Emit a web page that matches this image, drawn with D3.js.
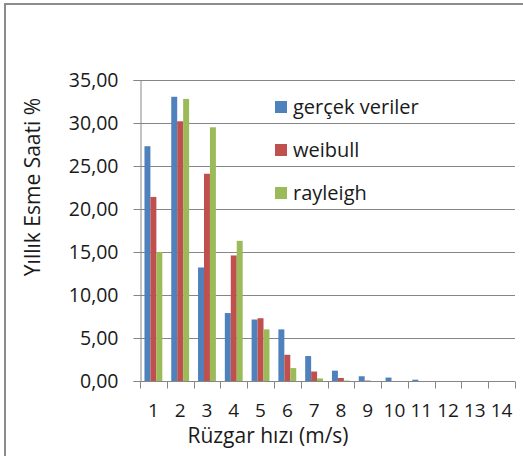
<!DOCTYPE html>
<html>
<head>
    <meta charset="utf-8">
    <title>Rüzgar hızı dağılımı</title>
    <script src="https://cdnjs.cloudflare.com/ajax/libs/d3/7.8.5/d3.min.js"></script>
    <style>
        body {
            margin: 0;
            background: white;
            font-family: "Open Sans", sans-serif;
        }
        svg text {
            fill: #1a1a1a;
        }
    </style>
</head>
<body>
    <div id="chart"></div>

    <script>
        // wind speed classes (m/s)
        const categories = [1, 2, 3, 4, 5, 6, 7, 8, 9, 10, 11, 12, 13, 14];
        const seriesNames = ["gerçek veriler", "weibull", "rayleigh"];
        const olcum = [27.3, 33.05, 13.2, 7.9, 7.15, 6.0, 2.9, 1.2, 0.55, 0.4, 0.15, 0, 0, 0];
        const weibull = [21.4, 30.2, 24.1, 14.6, 7.3, 3.05, 1.1, 0.35, 0.05, 0, 0, 0, 0, 0];
        const rayleigh = [15.0, 32.8, 29.5, 16.3, 6.0, 1.5, 0.3, 0.05, 0, 0, 0, 0, 0, 0];
        const yTicks = [0, 5, 10, 15, 20, 25, 30, 35];
        const colors = ["#4F81BD", "#C0504D", "#9BBB59"];

        const series = [olcum, weibull, rayleigh];

        const W = 523, H = 456;
        const plot = {left: 140, right: 515, top: 80, bottom: 381};

        const svg = d3.select("#chart")
            .append("svg")
            .attr("width", W)
            .attr("height", H);

        // outer chart frame (cut by the picture edge)
        svg.append("path")
            .attr("d", `M5,${H + 5} L5,4 L${W + 5},4`)
            .attr("fill", "none")
            .attr("stroke", "#8c8c8c")
            .attr("stroke-width", 2);

        const x = d3.scaleBand()
            .domain(categories)
            .range([plot.left, plot.right])
            .paddingInner(0)
            .paddingOuter(0);

        // gap width 150% -> bar = band / 4.5
        const barW = x.bandwidth() / 4.5;
        const xs = d3.scaleBand()
            .domain(d3.range(series.length))
            .range([barW * 0.75, barW * 3.75]);

        const y = d3.scaleLinear()
            .domain([0, 35])
            .range([plot.bottom, plot.top]);

        // gridlines
        svg.append("g")
            .selectAll("line")
            .data(yTicks.filter(d => d > 0))
            .enter()
            .append("line")
            .attr("x1", plot.left)
            .attr("x2", plot.right)
            .attr("y1", d => Math.round(y(d)) + 0.5)
            .attr("y2", d => Math.round(y(d)) + 0.5)
            .attr("stroke", "#868686")
            .attr("stroke-width", 1);

        // bars
        series.forEach((vals, si) => {
            svg.append("g")
                .selectAll("rect")
                .data(vals.map((v, i) => ({cat: categories[i], value: v})))
                .enter()
                .append("rect")
                .attr("x", d => x(d.cat) + xs(si))
                .attr("width", xs.bandwidth())
                .attr("y", d => y(d.value))
                .attr("height", d => y(0) - y(d.value))
                .attr("fill", colors[si]);
        });

        // y axis
        const yAxis = d3.axisLeft(y)
            .tickValues(yTicks)
            .tickSize(7)
            .tickPadding(15)
            .tickFormat(d => d3.format(".2f")(d).replace(".", ","));

        const gy = svg.append("g")
            .attr("transform", `translate(${plot.left + 0.5},0)`)
            .call(yAxis);
        gy.select(".domain").attr("stroke", "#868686");
        gy.selectAll(".tick line").attr("stroke", "#868686");
        gy.selectAll(".tick text")
            .attr("font-family", "Open Sans, sans-serif")
            .attr("font-size", 19.5)
            .attr("fill", "#1a1a1a");

        // x axis: ticks between categories, labels centred
        const gx = svg.append("g")
            .attr("transform", `translate(0,${plot.bottom + 0.5})`);
        gx.append("line")
            .attr("x1", plot.left)
            .attr("x2", plot.right)
            .attr("stroke", "#868686");
        gx.selectAll(".sep")
            .data(categories.concat([null]))
            .enter()
            .append("line")
            .attr("x1", (d, i) => Math.round(plot.left + i * x.step()) + 0.5)
            .attr("x2", (d, i) => Math.round(plot.left + i * x.step()) + 0.5)
            .attr("y1", 0)
            .attr("y2", 7)
            .attr("stroke", "#868686");
        gx.selectAll(".lbl")
            .data(categories)
            .enter()
            .append("text")
            .attr("x", d => x(d) + x.bandwidth() / 2)
            .attr("y", 35)
            .attr("text-anchor", "middle")
            .attr("font-size", 19)
            .text(d => d);

        // axis titles
        svg.append("text")
            .attr("transform", `translate(40,187) rotate(-90)`)
            .attr("text-anchor", "middle")
            .attr("font-size", 21)
            .text("Yıllık Esme Saati %");

        svg.append("text")
            .attr("x", 268)
            .attr("y", 443)
            .attr("text-anchor", "middle")
            .attr("font-size", 21)
            .text("Rüzgar hızı (m/s)");

        // legend
        const legend = svg.append("g")
            .attr("transform", "translate(275,101)");
        const items = legend.selectAll("g")
            .data(seriesNames)
            .enter()
            .append("g")
            .attr("transform", (d, i) => `translate(0,${i * 43})`);
        items.append("rect")
            .attr("width", 12)
            .attr("height", 12)
            .attr("fill", (d, i) => colors[i]);
        items.append("text")
            .attr("x", 18)
            .attr("y", 12.5)
            .attr("font-size", 20)
            .text(d => d);
    </script>
</body>
</html>
